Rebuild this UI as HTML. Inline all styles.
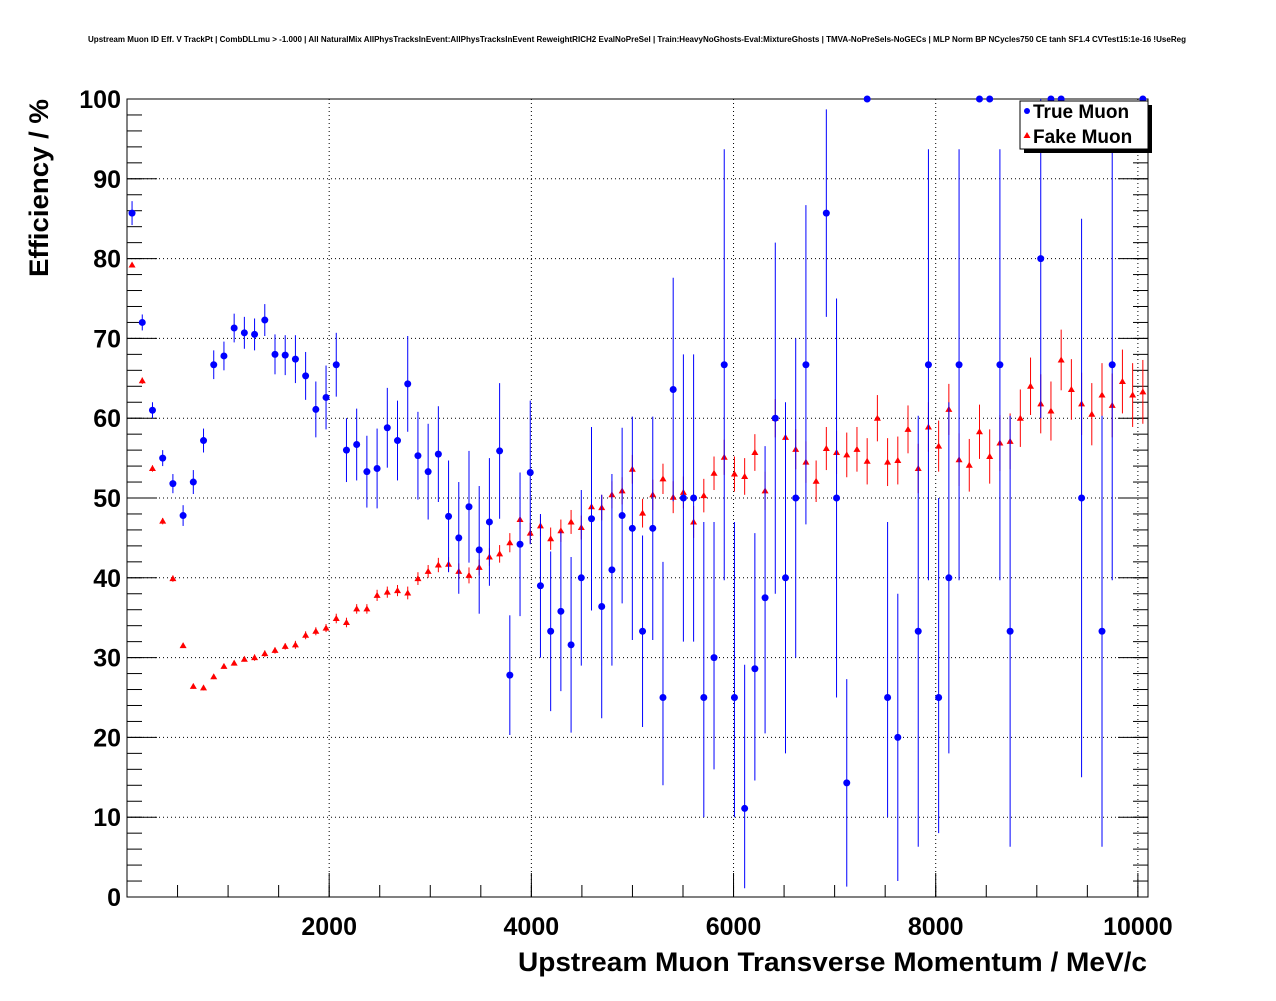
<!DOCTYPE html>
<html><head><meta charset="utf-8"><style>
body{margin:0;background:#fff;}
svg text{font-family:"Liberation Sans",sans-serif;}
</style></head><body>
<svg id="chart" width="1276" height="996" xmlns="http://www.w3.org/2000/svg">
<rect width="1276" height="996" fill="#fff"/>
<text x="637" y="42" font-size="8" font-weight="bold" text-anchor="middle" textLength="1098" lengthAdjust="spacingAndGlyphs">Upstream Muon ID Eff. V TrackPt | CombDLLmu &gt; -1.000 | All NaturalMix AllPhysTracksInEvent:AllPhysTracksInEvent ReweightRICH2 EvalNoPreSel | Train:HeavyNoGhosts-Eval:MixtureGhosts | TMVA-NoPreSels-NoGECs | MLP Norm BP NCycles750 CE tanh SF1.4 CVTest15:1e-16 !UseReg</text>
<g id="grid"></g><g id="axes"></g><g id="marks"></g>
<text x="1147" y="971" font-size="27" font-weight="bold" text-anchor="end" textLength="629" lengthAdjust="spacingAndGlyphs">Upstream Muon Transverse Momentum / MeV/c</text>
<text transform="translate(48,99) rotate(-90)" font-size="27" font-weight="bold" text-anchor="end" textLength="178" lengthAdjust="spacingAndGlyphs">Efficiency / %</text>
<g>
<rect x="1024" y="105" width="128" height="48" fill="#000"/>
<rect x="1020" y="101" width="128" height="48" fill="#fff" stroke="#000" stroke-width="1"/>
<circle cx="1027" cy="111" r="3" fill="#0000ff"/>
<text x="1033" y="118" font-size="19" font-weight="bold">True Muon</text>
<polygon points="1027,132 1030.5,138 1023.5,138" fill="#ff0000"/>
<text x="1033" y="143" font-size="19" font-weight="bold">Fake Muon</text>
</g>
</svg>
<script>
const trueVals=[85.7,72,61,55,51.8,47.8,52,57.2,66.7,67.8,71.3,70.7,70.5,72.3,68,67.9,67.4,65.3,61.1,62.6,66.7,56,56.7,53.3,53.7,58.8,57.2,64.3,55.3,53.3,55.5,47.7,45,48.9,43.5,47,55.9,27.8,44.2,53.2,39,33.3,35.8,31.6,40,47.4,36.4,41,47.8,46.2,33.3,46.2,25,63.6,50,50,25,30,66.7,25,11.1,28.6,37.5,60,40,50,66.7,null,85.7,50,14.3,null,100,null,25,20,null,33.3,66.7,25,40,66.7,null,100,100,66.7,33.3,null,null,80,100,100,null,50,null,33.3,66.7,null,null,100];
const trueErrHi=[1.5,1,1,1,1.2,1.3,1.5,1.5,1.8,1.8,1.8,2,2,2,2.5,2.5,3,3,3.5,4,4,4,4.5,4.5,5,5,5,6,5.5,6,6,7,7,7,8,8,8.5,7.5,9,9,9,10,10,11,11,11.5,14,12,11,14,12,14,17,14,18,18,22,17,27,22,18,17,19,22,22,20,20,0,13,25,13,0,0,0,22,18,0,27,27,25,22,27,0,0,0,27,27,0,0,20,0,0,0,35,0,27,27,0,0,0];
const trueErrLo=[1.5,1,1,1,1.2,1.3,1.5,1.5,1.8,1.8,1.8,2,2,2,2.5,2.5,3,3,3.5,4,4,4,4.5,4.5,5,5,5,6,5.5,6,6,7,7,7,8,8,8.5,7.5,9,9,9,10,10,11,11,11.5,14,12,11,14,12,14,11,14,18,18,15,14,27,15,10,14,17,22,22,20,20,0,13,25,13,0,0,0,15,18,0,27,27,17,22,27,0,0,0,27,27,0,0,20,0,0,0,35,0,27,27,0,0,0];
const fakeVals=[79.2,64.7,53.7,47.1,39.9,31.5,26.4,26.2,27.6,28.9,29.3,29.8,30,30.5,30.9,31.4,31.6,32.8,33.3,33.7,34.9,34.4,36.1,36.1,37.8,38.2,38.4,38.1,39.9,40.8,41.6,41.7,40.8,40.3,41.3,42.6,43,44.4,47.3,45.6,46.5,44.9,45.9,47,46.3,48.9,48.8,50.4,50.9,53.6,48.1,50.4,52.4,50.1,50.7,47,50.3,53.1,55.1,53,52.7,55.7,50.9,60,57.6,56.1,54.5,52.1,56.2,55.7,55.4,56.1,54.6,60,54.5,54.7,58.6,53.7,58.9,56.5,61.1,54.8,54.1,58.3,55.2,56.9,57.1,60,64,61.8,60.9,67.3,63.6,61.8,60.5,62.9,61.6,64.6,62.9,63.3];
const fakeErrArr=[0.3,0.4,0.4,0.4,0.4,0.3,0.3,0.3,0.3,0.3,0.3,0.3,0.4,0.4,0.4,0.4,0.5,0.5,0.5,0.5,0.6,0.6,0.6,0.6,0.7,0.7,0.7,0.8,0.8,0.8,0.9,0.9,1,1,1,1.1,1.1,1.2,1.2,1.3,1.3,1.4,1.4,1.5,1.5,1.6,1.6,1.7,1.7,1.8,1.8,1.9,1.9,2,2,2,2.1,2.1,2.2,2.2,2.3,2.3,2.4,2.4,2.5,2.5,2.6,2.6,2.7,2.7,2.8,2.8,2.9,2.9,3,3,3,3.1,3.1,3.2,3.2,3.3,3.3,3.4,3.4,3.5,3.5,3.6,3.6,3.7,3.7,3.8,3.8,3.9,3.9,4,4,4,4,4];
const xTicks=[2000,4000,6000,8000,10000];
const yTicks=[0,10,20,30,40,50,60,70,80,90,100];
const binStart=50, binStep=101;
const NS="http://www.w3.org/2000/svg";
const L=127,R=1148,T=99,B=897,XMAX=10100;
const xs=v=>L+(v/XMAX)*(R-L);
const ys=v=>B-(v/100)*(B-T);
function mk(tag,attrs,parent){const e=document.createElementNS(NS,tag);for(const k in attrs)e.setAttribute(k,attrs[k]);parent.appendChild(e);return e;}
const grid=document.getElementById('grid'),axes=document.getElementById('axes'),marks=document.getElementById('marks');
xTicks.forEach(t=>{const g=mk('line',{x1:xs(t),x2:xs(t),y1:T,y2:B,stroke:'#000','stroke-dasharray':'1,3','stroke-width':1},grid);


const tx=mk('text',{x:xs(t),y:935,'font-size':25,'font-weight':'bold','text-anchor':'middle'},axes);tx.textContent=t;


mk('line',{x1:xs(t),x2:xs(t),y1:B,y2:B-24,stroke:'#000'},axes);});
for(let v=500;v<XMAX;v+=500){mk('line',{x1:xs(v),x2:xs(v),y1:B,y2:B-12,stroke:'#000'},axes);}
yTicks.forEach(t=>{if(t>0&&t<100){const g=mk('line',{x1:L,x2:R,y1:ys(t),y2:ys(t),stroke:'#000','stroke-dasharray':'1,3','stroke-width':1},grid);

}
const tx=mk('text',{x:L-6,y:ys(t)+9,'font-size':25,'font-weight':'bold','text-anchor':'end'},axes);tx.textContent=t;


mk('line',{x1:L,x2:L+30,y1:ys(t),y2:ys(t),stroke:'#000'},axes);
mk('line',{x1:R,x2:R-30,y1:ys(t),y2:ys(t),stroke:'#000'},axes);});
for(let v=0;v<=100;v+=2){mk('line',{x1:L,x2:L+15,y1:ys(v),y2:ys(v),stroke:'#000'},axes);mk('line',{x1:R,x2:R-15,y1:ys(v),y2:ys(v),stroke:'#000'},axes);}
const fr=mk('rect',{x:L,y:T,width:R-L,height:B-T,fill:'none',stroke:'#000','stroke-width':1},axes);


fakeVals.forEach((v,i)=>{if(v===null)return;const cx=xs(binStart+i*binStep),e=fakeErrArr[i];
const ln=mk('line',{x1:cx,x2:cx,y1:ys(v+e),y2:ys(v-e),stroke:'#ff0000','stroke-width':1},marks);


const cy=ys(v);const p=mk('polygon',{points:`${cx},${cy-3.5} ${cx+3.5},${cy+2.5} ${cx-3.5},${cy+2.5}`,fill:'#ff0000'},marks);

});
trueVals.forEach((v,i)=>{if(v===null)return;const cx=xs(binStart+i*binStep);
const ln=mk('line',{x1:cx,x2:cx,y1:ys(Math.min(100,v+trueErrHi[i])),y2:ys(Math.max(0,v-trueErrLo[i])),stroke:'#0000ff','stroke-width':1},marks);


const c=mk('circle',{cx:cx,cy:ys(v),r:3.5,fill:'#0000ff'},marks);

});
</script>
</body></html>
